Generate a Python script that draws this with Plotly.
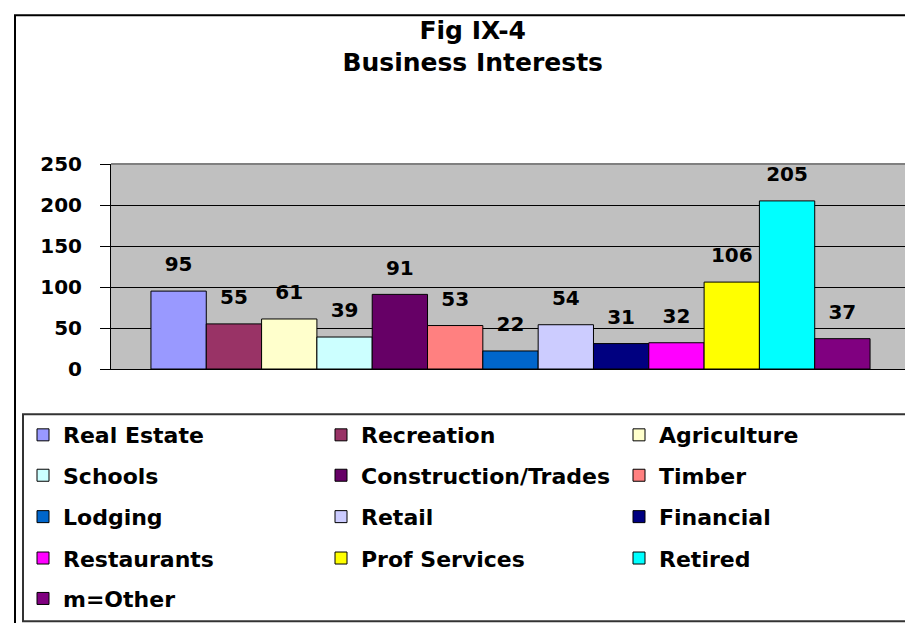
import plotly.graph_objects as go

# ── data ─────────────────────────────────────────────────────────────────────
CATEGORY = "Business Interests"
SERIES = ["Real Estate", "Recreation", "Agriculture", "Schools",
          "Construction/Trades", "Timber", "Lodging", "Retail", "Financial",
          "Restaurants", "Prof Services", "Retired", "m=Other"]
VALUES = [95, 55, 61, 39, 91, 53, 22, 54, 31, 32, 106, 205, 37]
COLORS = ["#9999FF", "#993366", "#FFFFCC", "#CCFFFF", "#660066", "#FF8080",
          "#0066CC", "#CCCCFF", "#000080", "#FF00FF", "#FFFF00", "#00FFFF",
          "#800080"]
Y_TICKS = [0, 50, 100, 150, 200, 250]

# ── look ─────────────────────────────────────────────────────────────────────
FONT = "DejaVu Sans"
PLOT_BG = "#C0C0C0"
W, H = 913, 623
L, R, T, B = 103, 11, 156, 259
PW, PH = W - L - R, H - T - B


def px_x(px):
    return (px - L) / PW


def px_y(py):
    return (H - B - py) / PH


ROW_CENTERS = [431, 472, 514, 556, 597]
N_COLS = 3

fig = go.Figure()

for i, (name, val, col) in enumerate(zip(SERIES, VALUES, COLORS)):
    row = i // N_COLS
    leg = "legend" if row == 0 else f"legend{row + 1}"
    fig.add_trace(go.Bar(
        x=[CATEGORY], y=[val], name=name,
        marker=dict(color=col, line=dict(color="black", width=1)),
        legend=leg,
    ))

# value labels, grouped the same way as the bars
for i, (name, val) in enumerate(zip(SERIES, VALUES)):
    fig.add_trace(go.Scatter(
        x=[CATEGORY], y=[val], mode="markers+text",
        text=[str(val)], textposition="top center",
        textfont=dict(family=FONT, size=20, color="black", weight="bold"),
        marker=dict(size=22, opacity=0),
        showlegend=False, hoverinfo="skip", cliponaxis=False,
    ))

legend_base = dict(
    orientation="h",
    x=px_x(15), xanchor="left", yanchor="middle",
    entrywidth=253, entrywidthmode="pixels",
    font=dict(family=FONT, size=22, color="black", weight="bold"),
    bgcolor="rgba(0,0,0,0)", borderwidth=0,
    traceorder="normal",
)
legends = {}
for r, yc in enumerate(ROW_CENTERS):
    key = "legend" if r == 0 else f"legend{r + 1}"
    legends[key] = dict(legend_base, y=px_y(yc))

fig.update_layout(
    width=W, height=H, autosize=False,
    margin=dict(l=L, r=R, t=T, b=B),
    paper_bgcolor="white", plot_bgcolor=PLOT_BG,
    barmode="group", bargap=0.1, bargroupgap=0,
    scattermode="group", scattergap=0.1,
    title=dict(
        text="Fig IX-4<br>Business Interests",
        x=0.509, xanchor="center", y=1 - 30.5 / H, yanchor="top",
        font=dict(family=FONT, size=25, color="black", weight="bold"),
    ),
    font=dict(family=FONT, color="black"),
    shapes=[
        # outer chart border
        dict(type="rect", xref="paper", yref="paper",
             x0=px_x(7), x1=px_x(918), y0=px_y(628), y1=px_y(5),
             line=dict(color="black", width=2), layer="below"),
        # legend box
        dict(type="rect", xref="paper", yref="paper",
             x0=px_x(15), x1=px_x(911), y0=px_y(620), y1=px_y(410),
             line=dict(color="#333333", width=2), layer="below"),
        # grey top / right edge of plot area
        dict(type="line", xref="paper", yref="paper", x0=0, x1=1, y0=1, y1=1,
             line=dict(color="#808080", width=2), layer="above"),
        dict(type="line", xref="paper", yref="paper", x0=1, x1=1, y0=0, y1=1,
             line=dict(color="#808080", width=2), layer="above"),
    ],
    **legends,
)

fig.update_xaxes(
    type="category", range=[-0.5, 0.5],
    showticklabels=False, ticks="", showgrid=False,
    showline=True, linecolor="black", linewidth=1,
)
fig.update_yaxes(
    range=[0, 250], tickvals=Y_TICKS,
    ticks="outside", ticklen=10, tickcolor="black", tickwidth=1,
    ticklabelstandoff=14,
    tickfont=dict(family=FONT, size=20, color="black", weight="bold"),
    showgrid=True, gridcolor="black", gridwidth=1, zeroline=False,
    showline=True, linecolor="black", linewidth=1,
)

fig.write_html("out.html")
